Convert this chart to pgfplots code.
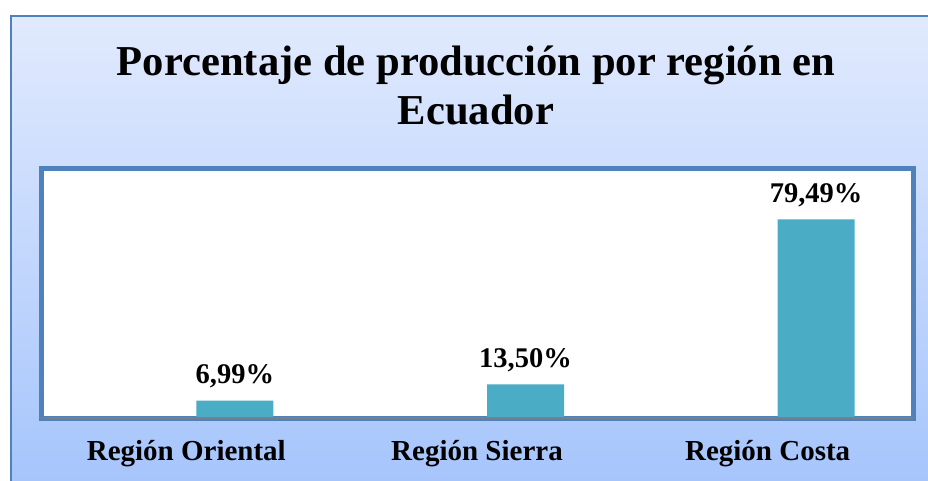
\documentclass[border=0pt]{standalone}
\usepackage{pgfplots}
\pgfplotsset{compat=1.18}
\usepackage{fontspec}
\setmainfont{Liberation Serif}
\definecolor{framec}{RGB}{79,129,189}
\definecolor{barc}{RGB}{75,172,198}
\definecolor{bgtop}{RGB}{225,234,253}
\definecolor{bgbot}{RGB}{166,197,252}
\begin{document}
\begin{tikzpicture}[x=1pt,y=1pt]
\path[use as bounding box] (0,0) rectangle (928,480);
\clip (0,0) rectangle (928,480);
\fill[white] (0,0) rectangle (928,480);
\shade[top color=bgtop, bottom color=bgbot] (11,-2) rectangle (940,464);
\draw[framec, line width=2pt] (11,-5) -- (11,464) -- (940,464);
\node[anchor=base, font=\bfseries\fontsize{42.6}{49}\selectfont] at (476,404) {Porcentaje de producción por región en};
\node[anchor=base, font=\bfseries\fontsize{42.6}{49}\selectfont] at (476,355) {Ecuador};
\begin{axis}[
  at={(41pt,62pt)}, anchor=south west,
  scale only axis, width=872pt, height=250pt,
  xmin=-0.5, xmax=2.5, ymin=0, ymax=100,
  axis background/.style={fill=white},
  axis line style={framec, line width=5pt},
  ytick=\empty,
  xtick={0,1,2},
  xticklabels={Región Oriental, Región Sierra, Región Costa},
  major tick length=0pt,
  xtick style={draw=none},
  xticklabel style={anchor=base, yshift=-42pt, font=\bfseries\fontsize{29}{34}\selectfont},
  /pgf/number format/assume math mode=true,
  clip=false,
  ybar, bar width=77pt, bar shift=48.5pt,
  nodes near coords={\pgfmathprintnumber[fixed,fixed zerofill,precision=2,use comma]{\pgfplotspointmeta}\%},
  every node near coord/.append style={anchor=base, inner sep=0pt, yshift=17pt, font=\bfseries\fontsize{28.5}{34}\selectfont, text=black},
]
\addplot[fill=barc, draw=none] coordinates {(0,6.99) (1,13.50) (2,79.49)};
\draw[gray!80!framec, line width=2pt] (axis description cs:0,0) -- (axis description cs:1,0);
\end{axis}
\end{tikzpicture}
\end{document}
